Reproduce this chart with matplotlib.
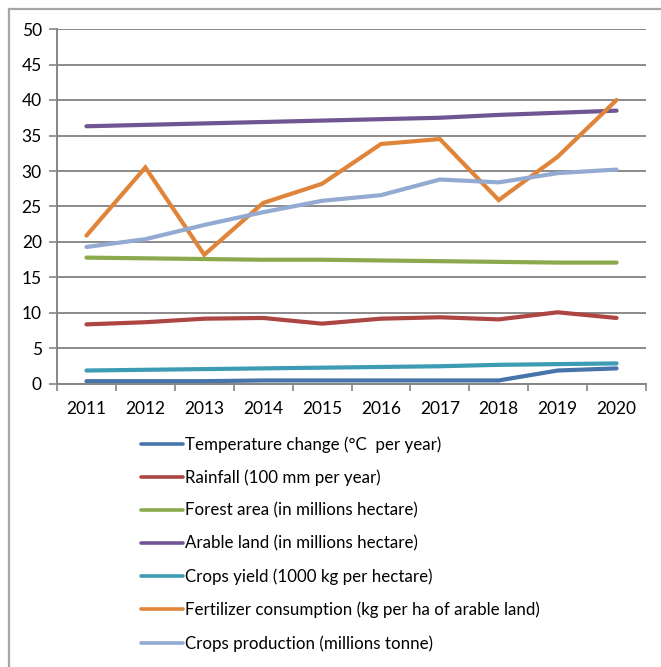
import matplotlib
matplotlib.use("Agg")
import matplotlib.pyplot as plt
from matplotlib.lines import Line2D
import numpy as np

years = ["2011", "2012", "2013", "2014", "2015", "2016", "2017", "2018", "2019", "2020"]
temperature = [0.4, 0.4, 0.4, 0.5, 0.5, 0.5, 0.5, 0.5, 1.9, 2.2]
rainfall = [8.4, 8.7, 9.2, 9.3, 8.5, 9.2, 9.4, 9.1, 10.1, 9.3]
forest = [17.8, 17.7, 17.6, 17.5, 17.5, 17.4, 17.3, 17.2, 17.1, 17.1]
arable = [36.3, 36.5, 36.7, 36.9, 37.1, 37.3, 37.5, 37.9, 38.2, 38.5]
crops_yield = [1.9, 2.0, 2.1, 2.2, 2.3, 2.4, 2.5, 2.7, 2.8, 2.9]
fertilizer = [20.9, 30.5, 18.2, 25.5, 28.2, 33.8, 34.5, 25.9, 32.0, 40.0]
production = [19.3, 20.4, 22.4, 24.2, 25.8, 26.6, 28.8, 28.4, 29.7, 30.2]

labels = ["Temperature change (°C  per year)",
          "Rainfall (100 mm per year)",
          "Forest area (in millions hectare)",
          "Arable land (in millions hectare)",
          "Crops yield (1000 kg per hectare)",
          "Fertilizer consumption (kg per ha of arable land)",
          "Crops production (millions tonne)"]
colors = ["#4674AB", "#AD4542", "#8AAA4D", "#6F5592", "#3E9BB4", "#E0843A", "#93AAD2"]
series = [temperature, rainfall, forest, arable, crops_yield, fertilizer, production]

plt.rcParams['font.family'] = ['Lato', 'DejaVu Sans']

W, H = 661, 667
fig = plt.figure(figsize=(W / 100, H / 100), dpi=100)
ax = fig.add_axes([57 / W, 1 - 384 / H, (646 - 57) / W, (384 - 29) / H])

x = np.arange(len(years))
handles = []
for vals, c, lab in zip(series, colors, labels):
    ax.plot(x, vals, color=c, lw=3.0, solid_capstyle='round', solid_joinstyle='miter', label=lab)
    handles.append(Line2D([0], [0], color=c, lw=2.6, solid_capstyle='round'))

ax.set_xlim(-0.5, len(years) - 0.5)
ax.set_ylim(0, 50)
ax.set_yticks(np.arange(0, 51, 5))
ax.set_xticks(x)
ax.set_xticklabels(years)
ax.set_xticks(np.arange(-0.5, len(years), 1), minor=True)
ax.tick_params(axis='x', which='major', length=0, pad=12, labelsize=12.5, colors='black')
ax.tick_params(axis='x', which='minor', length=5, width=1.2, color='#868686', direction='out')
ax.tick_params(axis='y', length=6, width=1.2, color='#868686', direction='out', pad=5, labelsize=12.5)
ax.grid(axis='y', color='#8A8A8A', lw=1.4)
ax.set_axisbelow(True)
for s in ['top', 'right']:
    ax.spines[s].set_visible(False)
for s in ['left', 'bottom']:
    ax.spines[s].set_color('#868686')
    ax.spines[s].set_linewidth(1.4)

# outer border (left and top edges visible)
fig.add_artist(Line2D([9 / W, 9 / W], [0, 1 - 9 / H], color='#A6A6A6', lw=1.6, transform=fig.transFigure))
fig.add_artist(Line2D([9 / W, 1], [1 - 9 / H, 1 - 9 / H], color='#A6A6A6', lw=1.6, transform=fig.transFigure))

leg = fig.legend(handles, labels, loc='upper left', bbox_to_anchor=(141 / W, 1 - 436 / H),
                 frameon=False, fontsize=12.2, handlelength=2.45, handletextpad=0.15,
                 labelspacing=0.99, borderaxespad=0, borderpad=0)

fig.savefig("out.png", dpi=100)
